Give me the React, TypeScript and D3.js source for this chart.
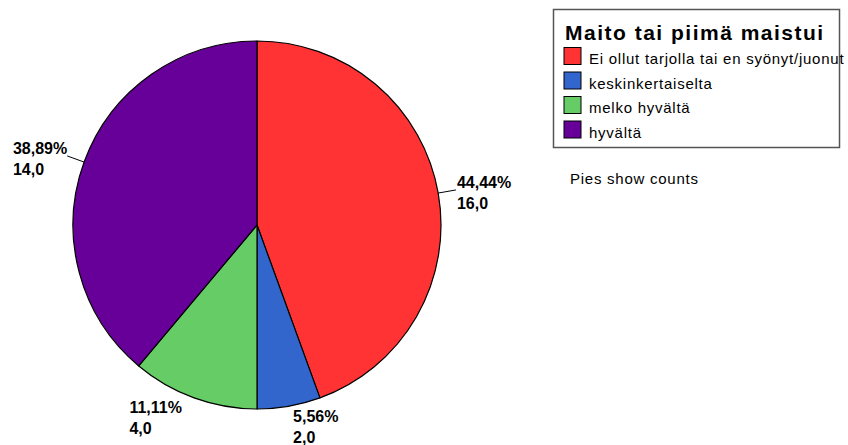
import React, { useEffect, useRef } from "react";
import * as d3 from "d3";

const categories = [
  "Ei ollut tarjolla tai en syönyt/juonut",
  "keskinkertaiselta",
  "melko hyvältä",
  "hyvältä",
];
const counts = [16, 2, 4, 14];
const colors = ["#ff3333", "#3366cc", "#66cc66", "#660099"];
const legendTitle = "Maito tai piimä maistui";
const note = "Pies show counts";

const W = 848;
const H = 445;

export default function App() {
  const ref = useRef<SVGSVGElement | null>(null);

  useEffect(() => {
    const svg = d3.select(ref.current);
    svg.selectAll("*").remove();

    const cx = 257;
    const cy = 225;
    const R = 184;
    const total = d3.sum(counts);

    const pie = d3
      .pie<number>()
      .sort(null)
      .value((d) => d);
    const arcs = pie(counts);
    const arc = d3.arc<d3.PieArcDatum<number>>().innerRadius(0).outerRadius(R);

    const g = svg.append("g").attr("transform", `translate(${cx},${cy})`);
    g.selectAll("path.slice")
      .data(arcs)
      .join("path")
      .attr("class", "slice")
      .attr("d", arc as any)
      .attr("fill", (_d, i) => colors[i])
      .attr("stroke", "#000")
      .attr("stroke-width", 1.2)
      .attr("stroke-linejoin", "round");

    const fmtPct = (v: number) => d3.format(".2f")(v).replace(".", ",") + "%";
    const fmtCnt = (v: number) => d3.format(".1f")(v).replace(".", ",");

    arcs.forEach((a) => {
      const mid = (a.startAngle + a.endAngle) / 2;
      const sx = Math.sin(mid);
      const sy = -Math.cos(mid);
      const p = [sx * R, sy * R];
      const q = [sx * (R + 18), sy * (R + 18)];
      const side = Math.abs(sx) > 0.8;
      if (side) {
        g.append("line")
          .attr("x1", p[0])
          .attr("y1", p[1])
          .attr("x2", q[0])
          .attr("y2", q[1])
          .attr("stroke", "#000")
          .attr("stroke-width", 1);
      }
      const lg = g.append("g");
      const t1 = lg
        .append("text")
        .attr("y", q[1] - 2)
        .text(fmtPct((a.value / total) * 100));
      const t2 = lg
        .append("text")
        .attr("y", q[1] - 2 + 21.5)
        .text(fmtCnt(a.value));
      lg.selectAll("text")
        .attr("font-family", "'Liberation Sans', Arial, sans-serif")
        .attr("font-size", 16)
        .attr("font-weight", "bold")
        .attr("fill", "#000");
      let x0: number;
      if (sx >= 0) {
        x0 = q[0] + 1;
      } else {
        const w = Math.max(
          (t1.node() as SVGTextElement).getComputedTextLength(),
          (t2.node() as SVGTextElement).getComputedTextLength()
        );
        x0 = q[0] - w - (side ? 0 : 6);
      }
      lg.selectAll("text").attr("x", x0);
    });

    // Legend
    const lgd = svg.append("g");
    lgd
      .append("rect")
      .attr("x", 553.5)
      .attr("y", 9.5)
      .attr("width", 286)
      .attr("height", 138)
      .attr("fill", "#fff")
      .attr("stroke", "#555")
      .attr("stroke-width", 1.5);
    lgd
      .append("text")
      .attr("x", 565)
      .attr("y", 40)
      .attr("font-family", "'Liberation Sans', Arial, sans-serif")
      .attr("font-size", 21)
      .attr("font-weight", "bold")
      .attr("letter-spacing", 1.5)
      .attr("fill", "#000")
      .text(legendTitle);

    const items = lgd
      .selectAll("g.item")
      .data(categories)
      .join("g")
      .attr("class", "item")
      .attr("transform", (_d, i) => `translate(0,${47 + i * 24.5})`);
    items
      .append("rect")
      .attr("x", 564)
      .attr("y", 0.5)
      .attr("width", 17)
      .attr("height", 17)
      .attr("fill", (_d, i) => colors[i])
      .attr("stroke", "#000")
      .attr("stroke-width", 1);
    items
      .append("text")
      .attr("x", 589)
      .attr("y", 17)
      .attr("font-family", "'Liberation Sans', Arial, sans-serif")
      .attr("font-size", 15)
      .attr("letter-spacing", 0.75)
      .attr("fill", "#000")
      .text((d) => d);

    svg
      .append("text")
      .attr("x", 570)
      .attr("y", 184)
      .attr("font-family", "'Liberation Sans', Arial, sans-serif")
      .attr("font-size", 15)
      .attr("letter-spacing", 0.75)
      .attr("fill", "#000")
      .text(note);
  }, []);

  return (
    <svg
      ref={ref}
      width={W}
      height={H}
      style={{ position: "absolute", left: 0, top: 0, background: "#fff" }}
    />
  );
}
